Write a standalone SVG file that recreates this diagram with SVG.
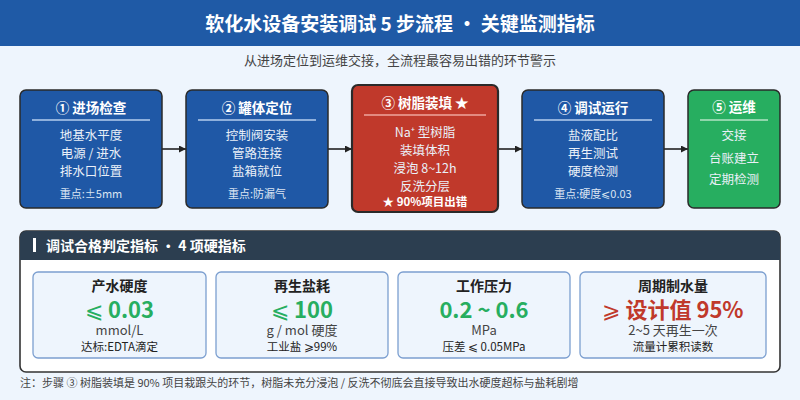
<svg xmlns="http://www.w3.org/2000/svg" width="800" height="400" viewBox="0 0 800 400">
<defs>
<style>
text{font-family:"Noto Sans CJK SC","Noto Sans",sans-serif;text-anchor:middle}
.node{stroke:#2a2a2a;stroke-width:1.5}
.blue{fill:#1f58a6}
.red{fill:#c0392b}
.green{fill:#27ae60}
.nt{font-size:13.5px;font-weight:bold;fill:#fff}
.nb{font-size:12.5px;fill:#eaf0f8}
.nk{font-size:11px;fill:#dbe5f3}
.div{stroke:#8fb0dc;stroke-width:2}
.conn{stroke:#222;stroke-width:1.6;fill:none}
.card{fill:#eef5fd;stroke:#7c9fd0;stroke-width:1.3}
.ct{font-size:14px;font-weight:bold;fill:#222}
.cv{font-size:22px;font-weight:bold;fill:#27ae60}
.sym{font-weight:normal}
.cu{font-size:13px;fill:#444}
.cn{font-size:11.5px;fill:#222}
</style>
<marker id="ah" viewBox="0 0 10 10" refX="10" refY="5" markerWidth="7" markerHeight="7" markerUnits="userSpaceOnUse" orient="auto">
<path d="M0,0 L10,5 L0,10 z" fill="#222"/>
</marker>
</defs>
<rect width="800" height="400" fill="#eef5fd"/>
<rect width="800" height="46" fill="#1f5aa6"/>
<text x="400" y="30.5" style="font-size:19px;font-weight:bold;fill:#fff">软化水设备安装调试 5 步流程 · 关键监测指标</text>
<text x="400" y="64.5" style="font-size:13px;fill:#444">从进场定位到运维交接，全流程最容易出错的环节警示</text>

<g id="connectors">
<line class="conn" x1="162" y1="149" x2="186" y2="149" marker-end="url(#ah)"/>
<line class="conn" x1="328" y1="149" x2="352" y2="149" marker-end="url(#ah)"/>
<line class="conn" x1="498" y1="149" x2="522" y2="149" marker-end="url(#ah)"/>
<line class="conn" x1="664" y1="149" x2="688" y2="149" marker-end="url(#ah)"/>
</g>

<g id="node1">
<rect class="node blue" x="20" y="90" width="142" height="118" rx="6"/>
<text class="nt" x="91" y="113">① 进场检查</text>
<line class="div" x1="32" y1="120" x2="150" y2="120"/>
<text class="nb" x="91" y="139.5">地基水平度</text>
<text class="nb" x="91" y="157.5">电源 / 进水</text>
<text class="nb" x="91" y="175.5">排水口位置</text>
<text class="nk" x="91" y="198">重点:±5mm</text>
</g>

<g id="node2">
<rect class="node blue" x="186" y="90" width="142" height="118" rx="6"/>
<text class="nt" x="257" y="113">② 罐体定位</text>
<line class="div" x1="198" y1="120" x2="316" y2="120"/>
<text class="nb" x="257" y="139.5">控制阀安装</text>
<text class="nb" x="257" y="157.5">管路连接</text>
<text class="nb" x="257" y="175.5">盐箱就位</text>
<text class="nk" x="257" y="198">重点:防漏气</text>
</g>

<g id="node3">
<rect class="red" x="352" y="85" width="146" height="127" rx="6" stroke="#2a2a2a" stroke-width="2.2"/>
<text class="nt" x="425" y="108">③ 树脂装填 ★</text>
<line x1="364" y1="115" x2="486" y2="115" stroke="#e38a80" stroke-width="2"/>
<text class="nb" x="425" y="136.5">Na⁺ 型树脂</text>
<text class="nb" x="425" y="154.5">装填体积</text>
<text class="nb" x="425" y="172.5">浸泡 8~12h</text>
<text class="nb" x="425" y="190.5">反洗分层</text>
<text x="425" y="206" style="font-size:11.5px;font-weight:bold;fill:#fff">★ 90%项目出错</text>
</g>

<g id="node4">
<rect class="node blue" x="522" y="90" width="142" height="118" rx="6"/>
<text class="nt" x="593" y="113">④ 调试运行</text>
<line class="div" x1="534" y1="120" x2="652" y2="120"/>
<text class="nb" x="593" y="139.5">盐液配比</text>
<text class="nb" x="593" y="157.5">再生测试</text>
<text class="nb" x="593" y="175.5">硬度检测</text>
<text class="nk" x="593" y="198">重点:硬度⩽0.03</text>
</g>

<g id="node5">
<rect class="node green" x="688" y="90" width="92" height="118" rx="6"/>
<text class="nt" x="734" y="112">⑤ 运维</text>
<line x1="700" y1="120" x2="768" y2="120" stroke="#8fd6ab" stroke-width="2"/>
<text class="nb" x="734" y="139.5">交接</text>
<text class="nb" x="734" y="162.5">台账建立</text>
<text class="nb" x="734" y="183.5">定期检测</text>
</g>

<g id="panel">
<rect x="20" y="231" width="760" height="141" rx="6" fill="#fff" stroke="#333" stroke-width="1.6"/>
<path d="M20,260 V237 A6,6 0 0 1 26,231 H774 A6,6 0 0 1 780,237 V260 Z" fill="#2c3e50"/>
<rect x="33" y="238" width="3" height="14" fill="#fff"/>
<text x="46" y="251" style="font-size:14px;font-weight:bold;fill:#fff;text-anchor:start">调试合格判定指标 · 4 项硬指标</text>
</g>

<g id="card1">
<rect class="card" x="33" y="272" width="173" height="86" rx="5"/>
<text class="ct" x="119.5" y="291">产水硬度</text>
<text class="cv" x="119.5" y="318"><tspan class="sym">⩽</tspan> 0.03</text>
<text class="cu" x="119.5" y="335">mmol/L</text>
<text class="cn" x="119.5" y="350.5">达标:EDTA滴定</text>
</g>
<g id="card2">
<rect class="card" x="216" y="272" width="172" height="86" rx="5"/>
<text class="ct" x="302" y="291">再生盐耗</text>
<text class="cv" x="302" y="318"><tspan class="sym">⩽</tspan> 100</text>
<text class="cu" x="302" y="335">g / mol 硬度</text>
<text class="cn" x="302" y="350.5">工业盐 ⩾99%</text>
</g>
<g id="card3">
<rect class="card" x="398" y="272" width="172" height="86" rx="5"/>
<text class="ct" x="484" y="291">工作压力</text>
<text class="cv" x="484" y="318">0.2 ~ 0.6</text>
<text class="cu" x="484" y="335">MPa</text>
<text class="cn" x="484" y="350.5">压差 ⩽ 0.05MPa</text>
</g>
<g id="card4">
<rect class="card" x="580" y="272" width="186" height="86" rx="5"/>
<text class="ct" x="673" y="291">周期制水量</text>
<text class="cv" x="673" y="318" style="fill:#c0392b"><tspan class="sym">⩾</tspan> 设计值 95%</text>
<text class="cu" x="673" y="335">2~5 天再生一次</text>
<text class="cn" x="673" y="350.5">流量计累积读数</text>
</g>

<text x="20" y="387" style="font-size:11px;fill:#444;text-anchor:start">注：步骤 ③ 树脂装填是 90% 项目栽跟头的环节，树脂未充分浸泡 / 反洗不彻底会直接导致出水硬度超标与盐耗剧增</text>
</svg>
